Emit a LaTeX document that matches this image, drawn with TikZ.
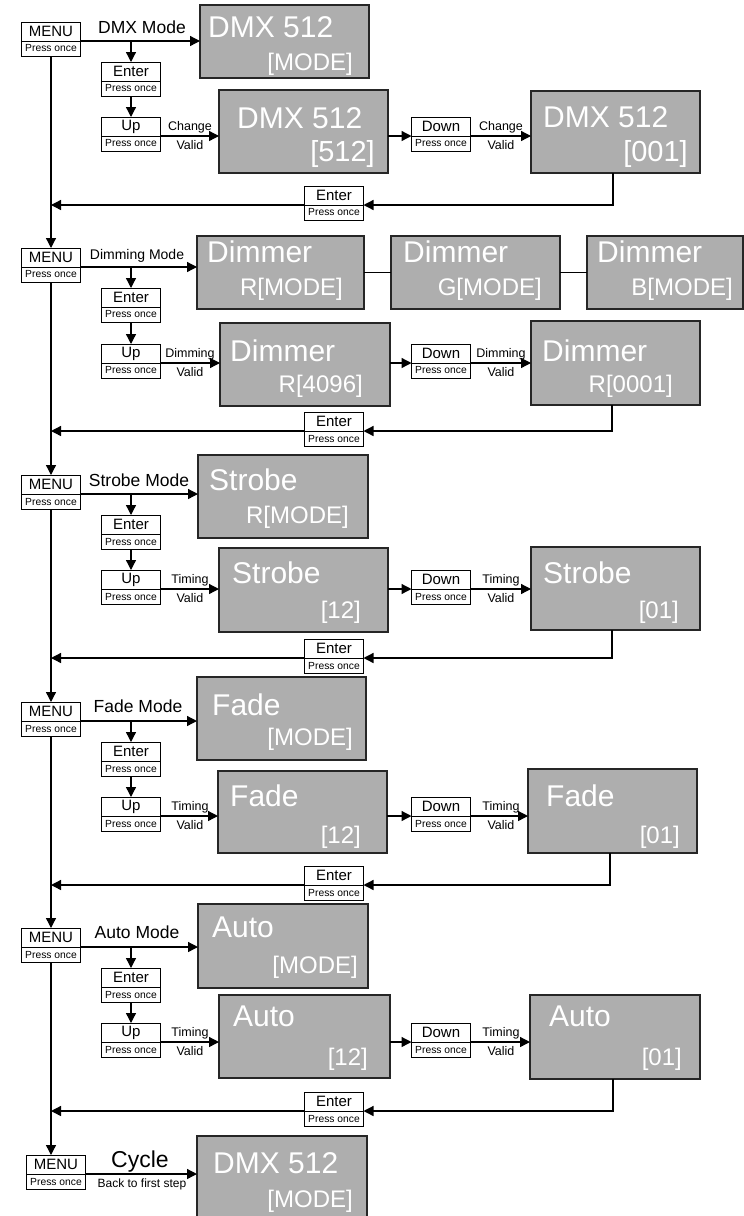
\documentclass[tikz,border=0pt]{standalone}
\usepackage{fontspec}
\setmainfont{Liberation Sans}
\usetikzlibrary{arrows.meta}
\definecolor{lcdgray}{RGB}{174,174,174}
\newcommand\keybox[5]{%
  \node[keytop] (#1) at (#2,#3) {#4};
  \node[keybot] (#1p) at (#1.south) {#5};}
\begin{document}
\begin{tikzpicture}[x=1pt,y=-1pt,
  keytop/.style={draw, line width=0.9pt, minimum width=59pt, minimum height=19pt, inner sep=0pt, outer sep=0pt, anchor=north, font=\fontsize{15}{15}\selectfont},
  keybot/.style={draw, line width=0.9pt, minimum width=59pt, minimum height=15pt, inner sep=0pt, outer sep=0pt, anchor=north, font=\fontsize{10.3}{10.3}\selectfont},
  lcd/.style={draw=black!85, line width=1.4pt, fill=lcdgray, inner sep=0pt, outer sep=0pt, anchor=north west},
  ttl/.style={text=white, inner sep=0pt, anchor=base west, font=\fontsize{30}{30}\selectfont},
  val/.style={text=white, inner sep=0pt, anchor=base east, font=\fontsize{24}{24}\selectfont},
  vbig/.style={text=white, inner sep=0pt, anchor=base east, font=\fontsize{29}{29}\selectfont},
  lbl/.style={inner sep=0pt, anchor=base, font=\fontsize{12.5}{12.5}\selectfont},
  mlbl/.style={inner sep=0pt, anchor=base, font=\fontsize{17.5}{17.5}\selectfont},
  arr/.style={line width=1.3pt, -{Triangle[length=10pt,width=10pt]}},
  lnk/.style={line width=1.3pt}]
\useasboundingbox (0,0) rectangle (744,1216);
\clip (0,0) rectangle (744,1216);
\fill[white] (0,0) rectangle (744,1216);

% ---------------- Section 1: DMX ----------------
\keybox{menu1}{51}{22}{MENU}{Press once}
\node[mlbl] (lab1) at (142,33) {DMX Mode};
\node[lcd, minimum width=169pt, minimum height=73pt] (m1) at (200,5) {};
\node[ttl] (m1t) at (208,37) {DMX 512};
\node[val] (m1v) at (353,70) {[MODE]};
\keybox{enter1}{131}{62}{Enter}{Press once}
\keybox{up1}{131}{117}{Up}{Press once}
\node[lcd, minimum width=169pt, minimum height=83pt] (v1a) at (219,90) {};
\node[ttl] (v1at) at (237,128) {DMX 512};
\node[vbig] (v1av) at (375,161) {[512]};
\keybox{down1}{441}{117}{Down}{Press once}
\node[lcd, minimum width=169pt, minimum height=82pt] (v1b) at (531,91) {};
\node[ttl] (v1bt) at (543,127) {DMX 512};
\node[vbig] (v1bv) at (688,161) {[001]};
\node[lbl] (c1a) at (190,130) {Change};
\node[lbl] (c1b) at (190,149) {Valid};
\node[lbl] (c1c) at (501,130) {Change};
\node[lbl] (c1d) at (501,149) {Valid};
\keybox{ret1}{334}{186}{Enter}{Press once}
\coordinate (r1) at (613,0);

% ---------------- Section 2: Dimming ----------------
\keybox{menu2}{51}{248}{MENU}{Press once}
\node[inner sep=0pt, anchor=base, font=\fontsize{14}{14}\selectfont] (lab2) at (137,259) {Dimming Mode};
\node[lcd, minimum width=167pt, minimum height=73pt, alias=m2] (m2r) at (197,236) {};
\node[ttl] (m2rt) at (207,262) {Dimmer};
\node[val] (m2rv) at (343,295) {R[MODE]};
\node[lcd, minimum width=169pt, minimum height=73pt] (m2g) at (391,236) {};
\node[ttl] (m2gt) at (403,262) {Dimmer};
\node[val] (m2gv) at (542,295) {G[MODE]};
\node[lcd, minimum width=156pt, minimum height=73pt] (m2b) at (587,236) {};
\node[ttl] (m2bt) at (597,262) {Dimmer};
\node[val] (m2bv) at (733,295) {B[MODE]};
\keybox{enter2}{131}{288}{Enter}{Press once}
\keybox{up2}{131}{344}{Up}{Press once}
\node[lcd, minimum width=170pt, minimum height=83pt] (v2a) at (220,323) {};
\node[ttl] (v2at) at (230,361) {Dimmer};
\node[val] (v2av) at (363,392) {R[4096]};
\keybox{down2}{441}{344}{Down}{Press once}
\node[lcd, minimum width=169pt, minimum height=84pt] (v2b) at (531,321) {};
\node[ttl] (v2bt) at (542,361) {Dimmer};
\node[val] (v2bv) at (673,392) {R[0001]};
\node[lbl] (c2a) at (190,357) {Dimming};
\node[lbl] (c2b) at (190,376) {Valid};
\node[lbl] (c2c) at (501,357) {Dimming};
\node[lbl] (c2d) at (501,376) {Valid};
\keybox{ret2}{334}{412}{Enter}{Press once}
\coordinate (r2) at (612,0);

% ---------------- Section 3: Strobe ----------------
\keybox{menu3}{51}{475}{MENU}{Press once}
\node[mlbl] (lab3) at (139,486) {Strobe Mode};
\node[lcd, minimum width=170pt, minimum height=83pt] (m3) at (198,455) {};
\node[ttl] (m3t) at (209,490) {Strobe};
\node[val] (m3v) at (349,523) {R[MODE]};
\keybox{enter3}{131}{515}{Enter}{Press once}
\keybox{up3}{131}{570}{Up}{Press once}
\node[lcd, minimum width=169pt, minimum height=84pt] (v3a) at (219,548) {};
\node[ttl] (v3at) at (232,583) {Strobe};
\node[val] (v3av) at (361,618) {[12]};
\keybox{down3}{441}{570}{Down}{Press once}
\node[lcd, minimum width=169pt, minimum height=83pt] (v3b) at (531,547) {};
\node[ttl] (v3bt) at (543,583) {Strobe};
\node[val] (v3bv) at (679,618) {[01]};
\node[lbl] (c3a) at (190,583) {Timing};
\node[lbl] (c3b) at (190,602) {Valid};
\node[lbl] (c3c) at (501,583) {Timing};
\node[lbl] (c3d) at (501,602) {Valid};
\keybox{ret3}{334}{639}{Enter}{Press once}
\coordinate (r3) at (612,0);

% ---------------- Section 4: Fade ----------------
\keybox{menu4}{51}{702}{MENU}{Press once}
\node[mlbl] (lab4) at (138,712) {Fade Mode};
\node[lcd, minimum width=169pt, minimum height=83pt] (m4) at (197,677) {};
\node[ttl] (m4t) at (212,715) {Fade};
\node[val] (m4v) at (353,745) {[MODE]};
\keybox{enter4}{131}{742}{Enter}{Press once}
\keybox{up4}{131}{797}{Up}{Press once}
\node[lcd, minimum width=169pt, minimum height=82pt] (v4a) at (218,771) {};
\node[ttl] (v4at) at (230,806) {Fade};
\node[val] (v4av) at (361,843) {[12]};
\keybox{down4}{441}{797}{Down}{Press once}
\node[lcd, minimum width=169pt, minimum height=84pt] (v4b) at (528,769) {};
\node[ttl] (v4bt) at (546,806) {Fade};
\node[val] (v4bv) at (680,843) {[01]};
\node[lbl] (c4a) at (190,810) {Timing};
\node[lbl] (c4b) at (190,829) {Valid};
\node[lbl] (c4c) at (501,810) {Timing};
\node[lbl] (c4d) at (501,829) {Valid};
\keybox{ret4}{334}{866}{Enter}{Press once}
\coordinate (r4) at (610,0);

% ---------------- Section 5: Auto ----------------
\keybox{menu5}{51}{928}{MENU}{Press once}
\node[mlbl] (lab5) at (137,938) {Auto Mode};
\node[lcd, minimum width=170pt, minimum height=84pt] (m5) at (198,904) {};
\node[ttl] (m5t) at (212,937) {Auto};
\node[val] (m5v) at (358,973) {[MODE]};
\keybox{enter5}{131}{968}{Enter}{Press once}
\keybox{up5}{131}{1023}{Up}{Press once}
\node[lcd, minimum width=171pt, minimum height=83pt] (v5a) at (219,995) {};
\node[ttl] (v5at) at (233,1026) {Auto};
\node[val] (v5av) at (368,1065) {[12]};
\keybox{down5}{441}{1023}{Down}{Press once}
\node[lcd, minimum width=170pt, minimum height=84pt] (v5b) at (530,995) {};
\node[ttl] (v5bt) at (549,1026) {Auto};
\node[val] (v5bv) at (682,1065) {[01]};
\node[lbl] (c5a) at (190,1036) {Timing};
\node[lbl] (c5b) at (190,1055) {Valid};
\node[lbl] (c5c) at (501,1036) {Timing};
\node[lbl] (c5d) at (501,1055) {Valid};
\keybox{ret5}{334}{1092}{Enter}{Press once}
\coordinate (r5) at (613,0);

% ---------------- Section 6: Cycle ----------------
\keybox{menu6}{56}{1155}{MENU}{Press once}
\node[inner sep=0pt, anchor=base, font=\fontsize{23}{23}\selectfont] (lab6) at (140,1167) {Cycle};
\node[inner sep=0pt, anchor=base, font=\fontsize{12}{12}\selectfont] (lab6b) at (142,1187) {Back to first step};
\node[lcd, minimum width=170pt, minimum height=100pt] (m6) at (197,1136) {};
\node[ttl] (m6t) at (213,1173) {DMX 512};
\node[val] (m6v) at (353,1207) {[MODE]};

% ---------------- connectors ----------------
\foreach \k in {1,...,5}{
  \draw[arr] (menu\k.south east) -- (menu\k.south east -| m\k.west);
  \draw[arr] (enter\k.north |- menu\k.south east) -- (enter\k.north);
  \draw[arr] (enter\k p.south) -- (up\k.north);
  \draw[arr] (up\k.south east) -- (up\k.south east -| v\k a.west);
  \draw[arr] (v\k a.east |- down\k.south west) -- (down\k.south west);
  \draw[arr] (down\k.south east) -- (down\k.south east -| v\k b.west);
  \draw[arr] (v\k b.south -| r\k) |- (ret\k.south east);
  \draw[arr] (ret\k.south west) -- (ret\k.south west -| menu\k p.south);
}
\foreach \k/\n in {1/2,2/3,3/4,4/5,5/6}{
  \draw[arr] (menu\k p.south) -- (menu\k p.south |- menu\n.north);
}
\draw[arr] (menu6.south east) -- (menu6.south east -| m6.west);
\draw[lnk] (m2r.east) -- (m2g.west);
\draw[lnk] (m2g.east) -- (m2b.west);
\end{tikzpicture}
\end{document}
